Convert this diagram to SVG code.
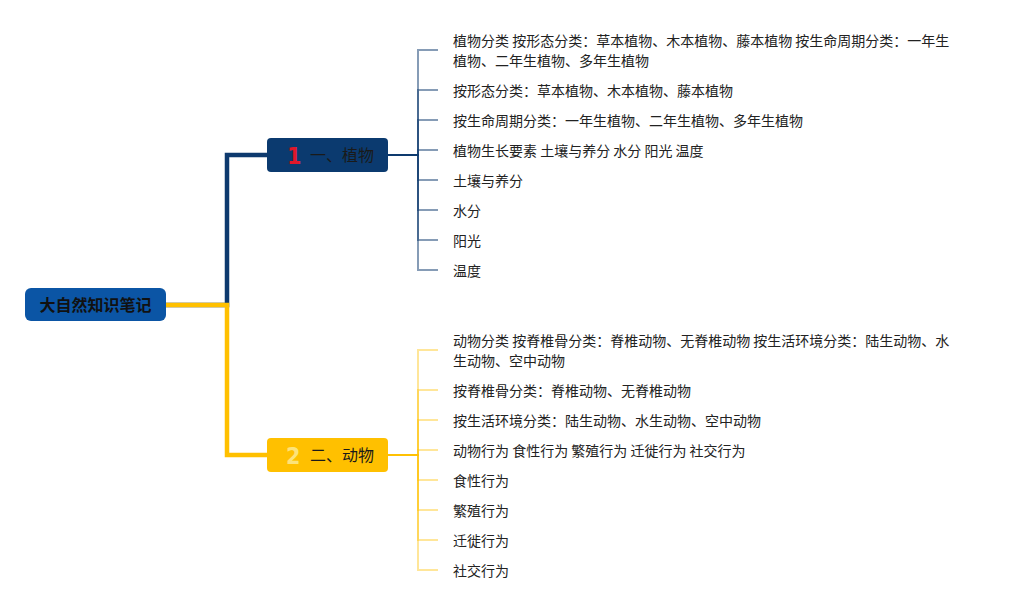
<svg xmlns="http://www.w3.org/2000/svg" width="1013" height="610" viewBox="0 0 1013 610">
<style>
.leaf{font-family:"Noto Sans CJK SC","Noto Sans",sans-serif;font-size:14px;fill:#222}
.br{font-family:"Noto Sans CJK SC","Noto Sans",sans-serif;font-size:16px;fill:#1a1a1a}
.num{font-family:"DejaVu Sans Condensed","DejaVu Sans",sans-serif;font-size:23px;font-weight:bold}
.pl{fill:none;stroke:#0E3A6E;stroke-opacity:0.5;stroke-width:2}
.al{fill:none;stroke:#FFC000;stroke-opacity:0.4;stroke-width:2}
</style>
<rect width="1013" height="610" fill="#fff"/>
<g id="connectors">
<path d="M166,305 H227 V155 H267" fill="none" stroke="#0E3A6E" stroke-width="4.5"/>
<path d="M166,305 H227 V455 H267" fill="none" stroke="#FFC000" stroke-width="4.5"/>
<path class="pl" d="M388,155 H418 V50 H438"/>
<path class="pl" d="M388,155 H418 V90 H438"/>
<path class="pl" d="M388,155 H418 V120 H438"/>
<path class="pl" d="M388,155 H418 V150 H438"/>
<path class="pl" d="M388,155 H418 V180 H438"/>
<path class="pl" d="M388,155 H418 V210 H438"/>
<path class="pl" d="M388,155 H418 V240 H438"/>
<path class="pl" d="M388,155 H418 V270 H438"/>
<path class="al" d="M388,455 H418 V350 H438"/>
<path class="al" d="M388,455 H418 V390 H438"/>
<path class="al" d="M388,455 H418 V420 H438"/>
<path class="al" d="M388,455 H418 V450 H438"/>
<path class="al" d="M388,455 H418 V480 H438"/>
<path class="al" d="M388,455 H418 V510 H438"/>
<path class="al" d="M388,455 H418 V540 H438"/>
<path class="al" d="M388,455 H418 V570 H438"/>
</g>
<g id="root">
<rect x="25" y="288" width="141" height="33" rx="6" fill="#0B55A5"/>
<text x="95.5" y="310.5" text-anchor="middle" font-family="Noto Sans CJK SC,sans-serif" font-size="16" font-weight="bold" fill="#111">大自然知识笔记</text>
</g>
<g id="branch1">
<rect x="267" y="138" width="121" height="34" rx="4" fill="#0B3A6F"/>
<text class="num" x="287" y="164" fill="#E0182A">1</text>
<text class="br" x="310" y="161">一、植物</text>
</g>
<g id="branch2">
<rect x="267" y="438" width="121" height="34" rx="4" fill="#FFC000"/>
<text class="num" x="286" y="464" fill="#FCE37A">2</text>
<text class="br" x="310" y="461">二、动物</text>
</g>
<g id="plant-leaves">
<text class="leaf" x="453" y="46">植物分类 按形态分类：草本植物、木本植物、藤本植物 按生命周期分类：一年生</text>
<text class="leaf" x="453" y="66">植物、二年生植物、多年生植物</text>
<text class="leaf" x="453" y="96">按形态分类：草本植物、木本植物、藤本植物</text>
<text class="leaf" x="453" y="126">按生命周期分类：一年生植物、二年生植物、多年生植物</text>
<text class="leaf" x="453" y="156">植物生长要素 土壤与养分 水分 阳光 温度</text>
<text class="leaf" x="453" y="186">土壤与养分</text>
<text class="leaf" x="453" y="216">水分</text>
<text class="leaf" x="453" y="246">阳光</text>
<text class="leaf" x="453" y="276">温度</text>
</g>
<g id="animal-leaves">
<text class="leaf" x="453" y="346">动物分类 按脊椎骨分类：脊椎动物、无脊椎动物 按生活环境分类：陆生动物、水</text>
<text class="leaf" x="453" y="366">生动物、空中动物</text>
<text class="leaf" x="453" y="396">按脊椎骨分类：脊椎动物、无脊椎动物</text>
<text class="leaf" x="453" y="426">按生活环境分类：陆生动物、水生动物、空中动物</text>
<text class="leaf" x="453" y="456">动物行为 食性行为 繁殖行为 迁徙行为 社交行为</text>
<text class="leaf" x="453" y="486">食性行为</text>
<text class="leaf" x="453" y="516">繁殖行为</text>
<text class="leaf" x="453" y="546">迁徙行为</text>
<text class="leaf" x="453" y="576">社交行为</text>
</g>
</svg>
